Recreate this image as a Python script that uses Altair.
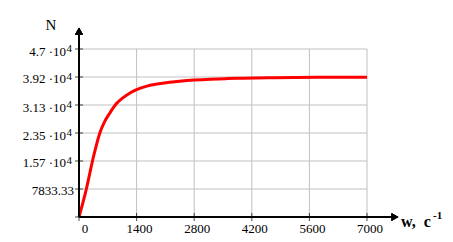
import altair as alt
import pandas as pd

# curve values
w = [0, 100, 180, 260, 340, 420, 500, 620, 750, 900, 1075, 1240, 1400, 1630,
     1900, 2200, 2500, 2800, 3200, 3600, 4000, 4600, 5200, 5800, 6400, 7000]
N = [0, 4200, 7900, 12100, 16300, 20000, 23300, 26600, 29100, 31600, 33400,
     34700, 35600, 36550, 37200, 37700, 38050, 38300, 38550, 38720, 38830,
     38950, 39030, 39080, 39110, 39130]

x_ticks = [0, 1400, 2800, 4200, 5600, 7000]
x_labels = ["0", "1400", "2800", "4200", "5600", "7000"]
y_ticks = [0, 7833.33, 15666.67, 23500, 31333.33, 39166.67, 47000]
y_main = ["", "7833.33", "1.57 ·10", "2.35 ·10", "3.13 ·10", "3.92 ·10", "4.7 ·10"]
y_sup = ["", "", "4", "4", "4", "4", "4"]

X_MAX = 7778
Y_MAX = 52875
FONT = "Liberation Serif"

curve_df = pd.DataFrame({"w": w, "N": N})
xt_df = pd.DataFrame({"v": x_ticks, "lab": x_labels})
yt_df = pd.DataFrame({"v": y_ticks, "main": y_main, "sup": y_sup})

xs = alt.Scale(domain=[0, X_MAX], nice=False, zero=False)
ys = alt.Scale(domain=[0, Y_MAX], nice=False, zero=False)


def XF(f):
    return alt.X(f, type="quantitative", scale=xs, axis=None)


def YF(f):
    return alt.Y(f, type="quantitative", scale=ys, axis=None)


def XD(v):
    return alt.XDatum(v, type="quantitative", scale=xs, axis=None)


def YD(v):
    return alt.YDatum(v, type="quantitative", scale=ys, axis=None)


grid_color = "#C0C0C0"

vgrid = alt.Chart(xt_df).transform_filter("datum.v > 0").mark_rule(
    color=grid_color, strokeWidth=1).encode(
    x=XF("v"), y=YD(0), y2=alt.Y2Datum(47000))

hgrid = alt.Chart(yt_df).transform_filter("datum.v > 0").mark_rule(
    color=grid_color, strokeWidth=1).encode(
    y=YF("v"), x=XD(0), x2=alt.X2Datum(7000))

line = alt.Chart(curve_df).mark_line(
    color="#FF0000", strokeWidth=3, interpolate="monotone").encode(
    x=XF("w"), y=YF("N"))

xaxis = alt.Chart(xt_df).mark_rule(color="black", strokeWidth=1).encode(
    x=XD(0), x2=alt.X2Datum(7630), y=YD(0))
yaxis = alt.Chart(xt_df).mark_rule(color="black", strokeWidth=1).encode(
    x=XD(0), y=YD(0), y2=alt.Y2Datum(51900))

xticks = alt.Chart(xt_df).mark_tick(
    orient="vertical", color="black", thickness=1, size=8).encode(
    x=XF("v"), y=YD(0))
yticks = alt.Chart(yt_df).mark_tick(
    orient="horizontal", color="black", thickness=1, size=8).encode(
    y=YF("v"), x=XD(0))

arrow_up = alt.Chart(xt_df).mark_point(
    shape="triangle-up", filled=True, color="black", size=60, opacity=1).encode(
    x=XD(0), y=YD(52000))
arrow_right = alt.Chart(xt_df).mark_point(
    shape="triangle-right", filled=True, color="black", size=60, opacity=1).encode(
    x=XD(7680), y=YD(0))

xlab0 = alt.Chart(xt_df).transform_filter("datum.v == 0").mark_text(
    align="center", baseline="alphabetic", dx=6, dy=16, font=FONT,
    fontSize=13, color="black").encode(x=XF("v"), y=YD(0), text="lab:N")
xlab = alt.Chart(xt_df).transform_filter("datum.v > 0").mark_text(
    align="center", baseline="alphabetic", dx=3, dy=16, font=FONT,
    fontSize=13, color="black").encode(x=XF("v"), y=YD(0), text="lab:N")

ylab_main = alt.Chart(yt_df).transform_filter("datum.sup != ''").mark_text(
    align="right", baseline="alphabetic", dx=-13, dy=6.5, font=FONT,
    fontSize=13, color="black").encode(x=XD(0), y=YF("v"), text="main:N")
ylab_sup = alt.Chart(yt_df).transform_filter("datum.sup != ''").mark_text(
    align="left", baseline="alphabetic", dx=-12.5, dy=3, font=FONT,
    fontSize=11, color="black").encode(x=XD(0), y=YF("v"), text="sup:N")
ylab_plain = alt.Chart(yt_df).transform_filter(
    "datum.sup == '' && datum.main != ''").mark_text(
    align="right", baseline="alphabetic", dx=-5, dy=5.5, font=FONT,
    fontSize=13, color="black").encode(x=XD(0), y=YF("v"), text="main:N")

ytitle = alt.Chart(xt_df).transform_filter("datum.v == 0").mark_text(
    align="center", baseline="alphabetic", dx=-28, dy=1.5, font=FONT,
    fontSize=15, color="black").encode(x=XD(0), y=YD(Y_MAX), text=alt.value("N"))
xtitle = alt.Chart(xt_df).transform_filter("datum.v == 0").mark_text(
    align="left", baseline="alphabetic", dx=2, dy=9.5, font=FONT,
    fontSize=16, fontWeight="bold", color="black").encode(
    x=XD(X_MAX), y=YD(0), text=alt.value("w,\u00a0 c"))
xtitle_sup = alt.Chart(xt_df).transform_filter("datum.v == 0").mark_text(
    align="left", baseline="alphabetic", dx=34, dy=2, font=FONT,
    fontSize=11, fontWeight="bold", color="black").encode(
    x=XD(X_MAX), y=YD(0), text=alt.value("-1"))

chart = alt.layer(
    vgrid, hgrid, line, xaxis, yaxis, xticks, yticks, arrow_up, arrow_right,
    xlab0, xlab, ylab_main, ylab_sup, ylab_plain, ytitle, xtitle, xtitle_sup
).properties(
    width=320, height=189,
    autosize=alt.AutoSizeParams(type="none"),
    padding={"left": 79, "top": 28, "right": 54, "bottom": 25},
    background="white",
).configure_view(stroke=None)

chart.save("out.html", embed_options={"renderer": "svg", "actions": False})
